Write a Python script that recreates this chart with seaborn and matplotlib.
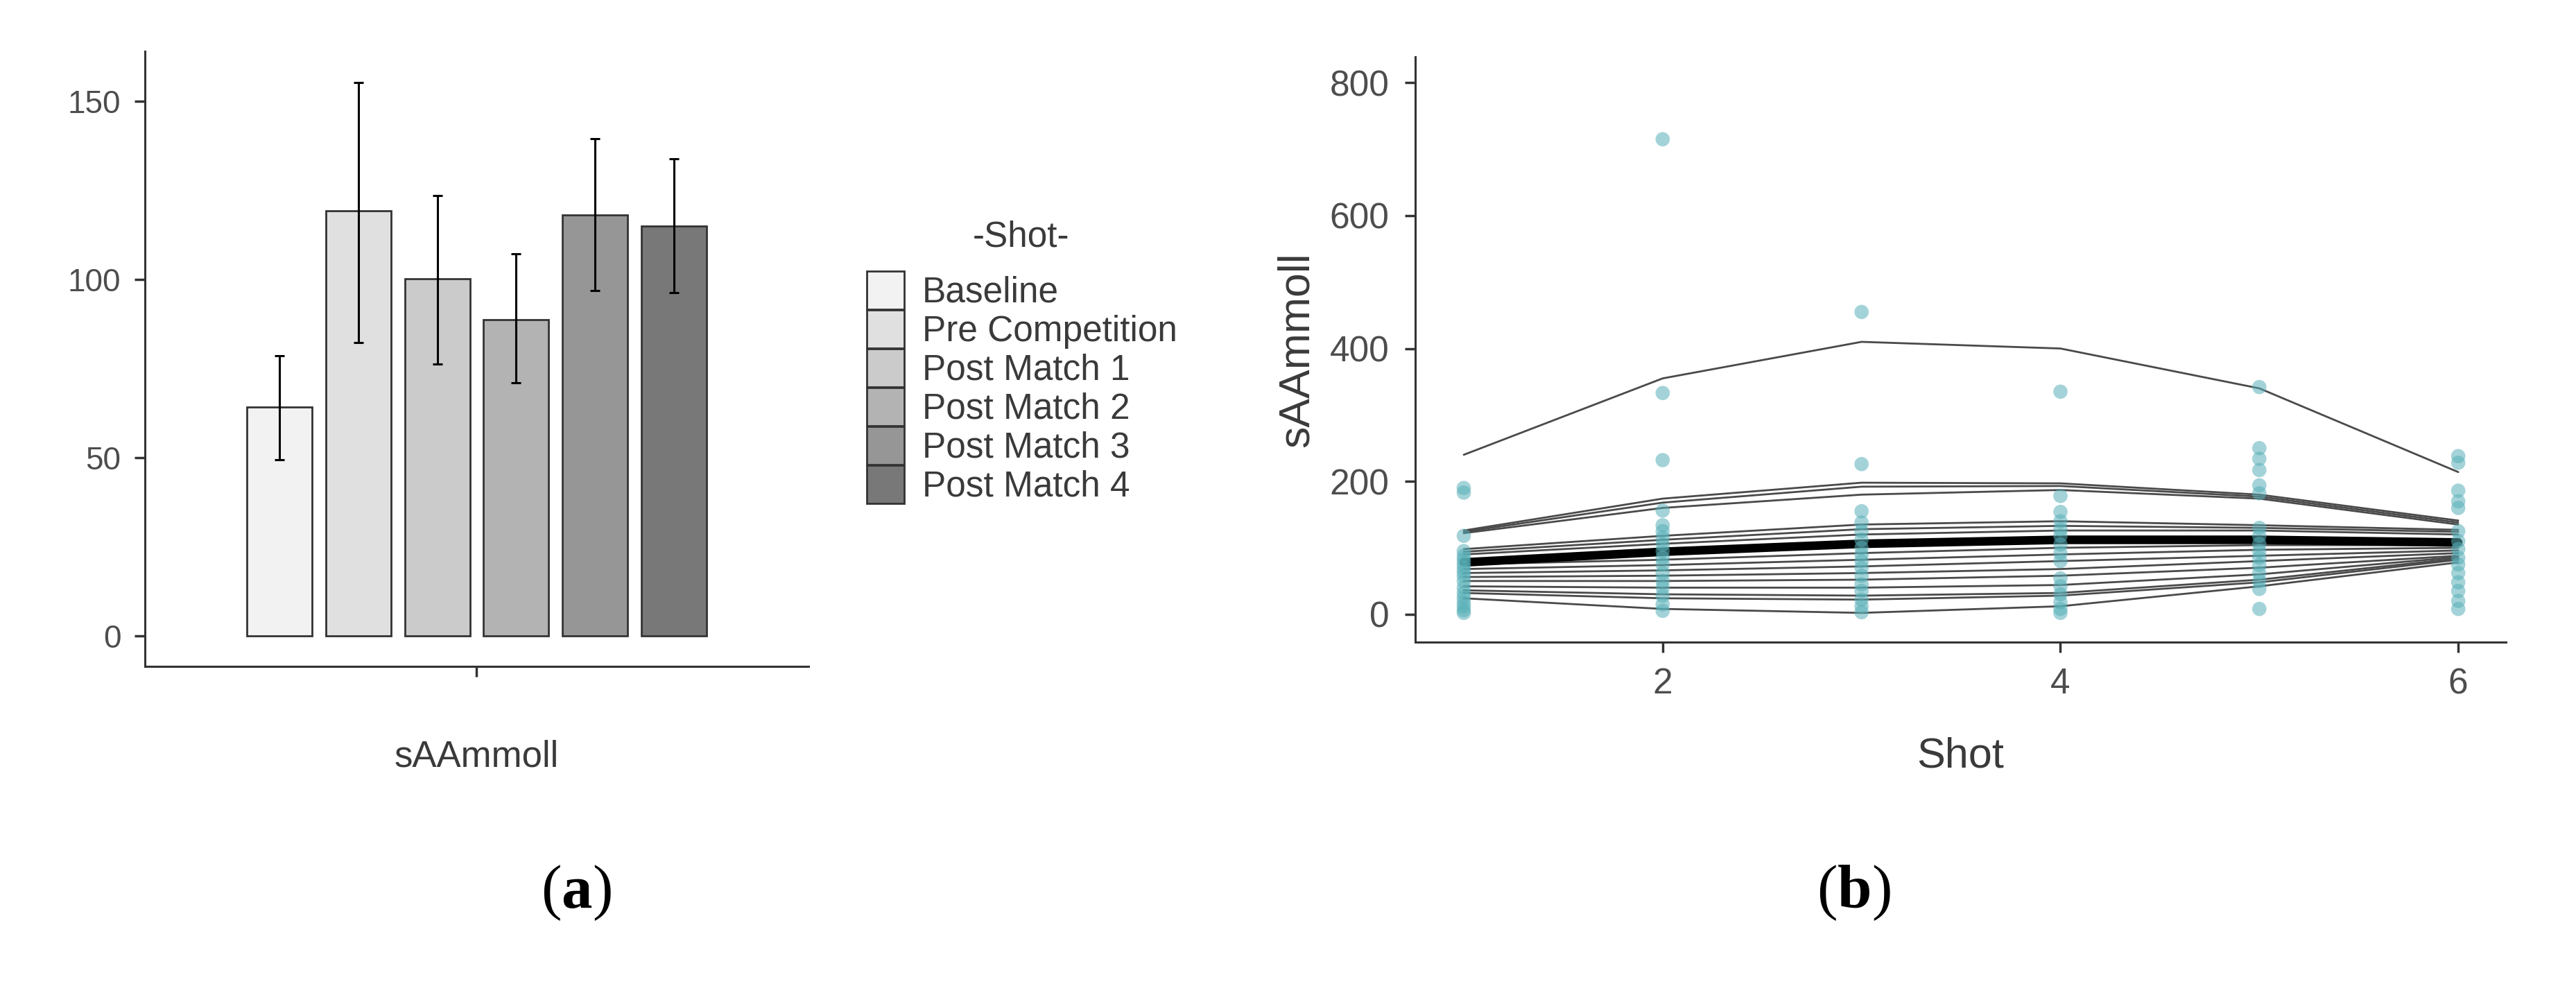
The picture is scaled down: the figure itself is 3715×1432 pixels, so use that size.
import pandas as pd
import seaborn as sns
import matplotlib.pyplot as plt
from matplotlib.patches import Patch

# ---- data: panel (a), mean sAA per sampling point with error bars ----
shots = ["Baseline", "Pre Competition", "Post Match 1", "Post Match 2", "Post Match 3", "Post Match 4"]
bar_means = [64.3, 119.3, 100.3, 88.8, 118.2, 114.9]
bar_lower = [49.5, 82.4, 76.2, 71.1, 97.0, 96.4]
bar_upper = [78.7, 155.3, 123.6, 107.3, 139.4, 133.9]
bar_colors = ["#f2f2f2", "#e0e0e0", "#cbcbcb", "#b3b3b3", "#969696", "#787878"]

# ---- data: panel (b), individual trajectories, mean trend and raw points ----
shot_x = [1, 2, 3, 4, 5, 6]
subject_lines = [
    [240, 355, 410, 400, 340, 214],
    [126, 174, 198, 197, 180, 141],
    [124, 168, 192, 193, 177, 138],
    [122, 160, 180, 187, 174, 135],
    [98, 118, 135, 140, 134, 127],
    [94, 112, 128, 133, 130, 124],
    [90, 106, 120, 126, 126, 120],
    [75, 82, 92, 100, 104, 104],
    [68, 74, 82, 90, 97, 100],
    [62, 66, 72, 80, 88, 96],
    [56, 58, 62, 68, 80, 92],
    [50, 50, 52, 58, 70, 88],
    [42, 40, 40, 44, 60, 86],
    [36, 30, 28, 32, 52, 84],
    [32, 24, 22, 28, 48, 82],
    [24, 8, 2, 12, 42, 78],
]
mean_line = [78, 94, 106, 112, 112, 108]

points_shot1 = [190, 183, 118, 95, 88, 82, 76, 70, 64, 58, 50, 40, 32, 25, 18, 12, 6, 2]
points_shot2 = [715, 333, 232, 156, 134, 125, 115, 105, 95, 85, 75, 62, 50, 40, 28, 15, 5]
points_shot3 = [455, 226, 155, 138, 125, 112, 100, 90, 80, 70, 58, 45, 35, 22, 12, 3]
points_shot4 = [335, 178, 154, 140, 128, 118, 105, 92, 80, 54, 42, 30, 18, 8, 2]
points_shot5 = [342, 250, 234, 217, 194, 182, 130, 118, 106, 95, 85, 74, 62, 50, 38, 8]
points_shot6 = [238, 228, 186, 170, 160, 125, 110, 98, 85, 75, 62, 48, 35, 20, 8]

# Build long-form tables
bar_df = pd.DataFrame({"var": "sAAmmoll", "Shot": shots, "mean": bar_means})

line_rows = []
for sid, vals in enumerate(subject_lines):
    for x, v in zip(shot_x, vals):
        line_rows.append({"subject": sid, "Shot": x, "sAAmmoll": v})
line_df = pd.DataFrame(line_rows)

point_lists = [points_shot1, points_shot2, points_shot3, points_shot4, points_shot5, points_shot6]
point_df = pd.DataFrame(
    [{"Shot": x, "sAAmmoll": v} for x, vals in zip(shot_x, point_lists) for v in vals]
)

# Style
sns.set_style("ticks")
plt.rcParams["font.family"] = ["Liberation Sans", "DejaVu Sans"]
plt.rcParams["mathtext.fontset"] = "custom"
plt.rcParams["mathtext.bf"] = "Liberation Serif:bold"
plt.rcParams["mathtext.rm"] = "Liberation Serif"

axis_col = "#333333"
tick_col = "#4d4d4d"
title_col = "#3a3a3a"

W, H = 3716, 1432
fig = plt.figure(figsize=(W / 100, H / 100), dpi=100)
ax1 = fig.add_axes([209 / W, 1 - 961 / H, (1166 - 209) / W, (961 - 74) / H])
ax2 = fig.add_axes([2041 / W, 1 - 926 / H, (3614 - 2041) / W, (926 - 82) / H])

# ---- panel (a) ----
sns.barplot(
    data=bar_df, x="var", y="mean", hue="Shot", hue_order=shots,
    palette=bar_colors, saturation=1, edgecolor=axis_col, linewidth=2,
    width=0.8, gap=0.175, errorbar=None, legend=False, ax=ax1,
)
centers = sorted(p.get_x() + p.get_width() / 2 for p in ax1.patches)
yerr = [
    [m - lo for m, lo in zip(bar_means, bar_lower)],
    [hi - m for m, hi in zip(bar_means, bar_upper)],
]
ax1.errorbar(centers, bar_means, yerr=yerr, fmt="none", ecolor="black",
             elinewidth=2.2, capsize=5, capthick=2.2, zorder=3)

ax1.set_xlim(-0.56, 0.56)
ax1.set_ylim(-8.5, 164)
ax1.set_yticks([0, 50, 100, 150])
ax1.set_xticks([0])
ax1.set_xticklabels([""])
ax1.set_ylabel("")
ax1.set_xlabel("sAAmmoll", fontsize=38, color=title_col)
ax1.xaxis.set_label_coords(0.5, -0.1195)
ax1.tick_params(axis="both", length=11, width=2.5, color=axis_col,
                labelcolor=tick_col, labelsize=33)
ax1.tick_params(axis="y", pad=14)

# Legend: stacked keys touching each other, one row ~55 px tall
handles = [Patch(facecolor=c, edgecolor=axis_col, linewidth=2) for c in bar_colors]
fig.legend(handles, shots, loc="upper left", bbox_to_anchor=(1250 / W, 1 - 391 / H),
           frameon=False, borderpad=0, borderaxespad=0, labelspacing=0,
           handlelength=1.05, handleheight=1.2846, handletextpad=0.5,
           fontsize=37, labelcolor=title_col)
fig.text(1473 / W, 1 - 342 / H, "-Shot-", ha="center", va="center",
         fontsize=37, color=title_col)

# ---- panel (b) ----
sns.lineplot(data=line_df, x="Shot", y="sAAmmoll", units="subject", estimator=None,
             color="#4a4a4a", linewidth=2, ax=ax2)
sns.lineplot(x=shot_x, y=mean_line, color="black", linewidth=9, ax=ax2)
sns.scatterplot(data=point_df, x="Shot", y="sAAmmoll", color="#58afb8", alpha=0.55,
                s=220, edgecolor="none", ax=ax2, zorder=3)

ax2.set_xlim(0.756, 6.24)
ax2.set_ylim(-42, 839)
ax2.set_xticks([2, 4, 6])
ax2.set_yticks([0, 200, 400, 600, 800])
ax2.set_xlabel("Shot", fontsize=44, color=title_col)
ax2.set_ylabel("sAAmmoll", fontsize=45, color=title_col)
ax2.xaxis.set_label_coords(0.5, -0.162)
ax2.yaxis.set_label_coords(-0.0896, 0.5)
ax2.tick_params(axis="both", length=11, width=2.5, color=axis_col,
                labelcolor=tick_col, labelsize=37)
ax2.tick_params(axis="y", pad=16)
ax2.tick_params(axis="x", pad=15)

for ax in (ax1, ax2):
    sns.despine(ax=ax)
    for side in ("left", "bottom"):
        ax.spines[side].set_linewidth(2.2)
        ax.spines[side].set_color(axis_col)

# Panel captions
fig.text(831 / W, 1 - 1309 / H, r"($\mathbf{a}$)", ha="center", va="baseline",
         fontsize=64, family="Liberation Serif", color="black")
fig.text(2673 / W, 1 - 1309 / H, r"($\mathbf{b}$)", ha="center", va="baseline",
         fontsize=64, family="Liberation Serif", color="black")

fig.savefig("out.png", dpi=100)
